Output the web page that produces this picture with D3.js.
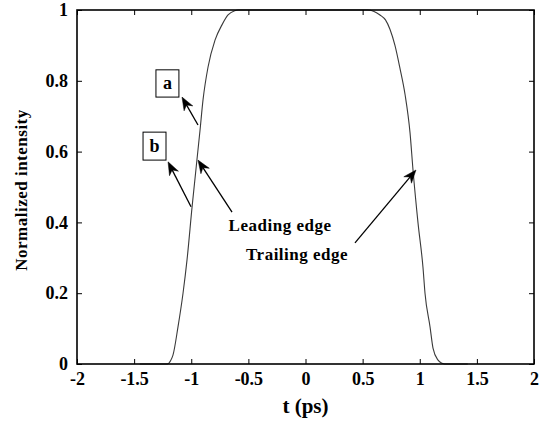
<!DOCTYPE html>
<html>
<head>
<meta charset="utf-8">
<script src="https://cdn.jsdelivr.net/npm/d3@7"></script>
<style>
  html, body { margin: 0; padding: 0; background: #fff; }
  svg { display: block; }
  text { font-family: "Liberation Serif", "Times New Roman", serif; font-weight: bold; fill: #000; }
</style>
</head>
<body>
<svg id="chart" width="541" height="422"></svg>
<script>
// Pulse profile: time (ps) and normalized intensity
const timePs = [-1.45, -1.21, -1.18, -1.16, -1.116, -1.072, -1.037, -0.993, -0.923, -0.897,
                -0.853, -0.792, -0.731, -0.678, -0.62, -0.59, 0.54, 0.60, 0.652, 0.70,
                0.74, 0.783, 0.827, 0.871, 0.915, 0.941, 0.985, 1.028, 1.046, 1.090,
                1.116, 1.160, 1.195, 1.22, 1.42];
const intensity = [0, 0, 0.01, 0.025, 0.105, 0.20, 0.294, 0.443, 0.661, 0.746,
                   0.839, 0.915, 0.958, 0.986, 0.998, 1.0, 1.0, 0.996, 0.986, 0.972,
                   0.945, 0.90, 0.835, 0.762, 0.653, 0.548, 0.398, 0.274, 0.20, 0.105,
                   0.045, 0.011, 0.002, 0, 0];

// Axis ticks
const xTicks = [-2, -1.5, -1, -0.5, 0, 0.5, 1, 1.5, 2];
const xTickLabels = ["-2", "-1.5", "-1", "-0.5", "0", "0.5", "1", "1.5", "2"];
const yTicks = [0, 0.2, 0.4, 0.6, 0.8, 1];
const yTickLabels = ["0", "0.2", "0.4", "0.6", "0.8", "1"];

// Annotation arrows (data coordinates: tail -> tip)
const arrowFrom = [[-0.941, 0.675], [-1.002, 0.444], [-0.643, 0.429], [0.433, 0.342]];
const arrowTo   = [[-1.081, 0.754], [-1.203, 0.571], [-0.941, 0.576], [0.967, 0.548]];

// Boxed labels: text and box extent [x0, x1, yTop, yBottom]
const boxLabels = ["a", "b"];
const boxExtents = [[-1.309, -1.108, 0.831, 0.754], [-1.422, -1.221, 0.655, 0.576]];

// Free text labels: text and centre/baseline position
const noteTexts = ["Leading edge", "Trailing edge"];
const notePos = [[-0.223, 0.376], [-0.074, 0.294]];

const margin = { top: 10, right: 7, bottom: 58, left: 77 };
const width = 541 - margin.left - margin.right;
const height = 422 - margin.top - margin.bottom;

const svg = d3.select("#chart");
const g = svg.append("g").attr("transform", `translate(${margin.left},${margin.top})`);

const x = d3.scaleLinear().domain([-2, 2]).range([0, width]);
const y = d3.scaleLinear().domain([0, 1]).range([height, 0]);

// Curve
const pts = timePs.map((t, i) => [t, intensity[i]]);
g.append("path")
  .datum(pts)
  .attr("fill", "none")
  .attr("stroke", "#3a3a3a")
  .attr("stroke-width", 1.1)
  .attr("d", d3.line().x(d => x(d[0])).y(d => y(d[1])).curve(d3.curveMonotoneX));

// Axes with inward ticks on all four sides
const tickLen = 5;
const fmtX = d => xTickLabels[xTicks.indexOf(d)];
const fmtY = d => yTickLabels[yTicks.indexOf(d)];

const xAxis = g.append("g").attr("transform", `translate(0,${height})`)
  .call(d3.axisBottom(x).tickValues(xTicks).tickFormat(fmtX).tickSizeInner(-tickLen).tickSizeOuter(0).tickPadding(8));
const xTop = g.append("g")
  .call(d3.axisTop(x).tickValues(xTicks).tickFormat("").tickSizeInner(-tickLen).tickSizeOuter(0));
const yAxis = g.append("g")
  .call(d3.axisLeft(y).tickValues(yTicks).tickFormat(fmtY).tickSizeInner(-tickLen).tickSizeOuter(0).tickPadding(9));
const yRight = g.append("g").attr("transform", `translate(${width},0)`)
  .call(d3.axisRight(y).tickValues(yTicks).tickFormat("").tickSizeInner(-tickLen).tickSizeOuter(0));

[xAxis, xTop, yAxis, yRight].forEach(a => {
  a.select(".domain").remove();
  a.selectAll(".tick line").attr("stroke", "#000").attr("stroke-width", 1);
  a.selectAll("text").attr("font-size", 18).attr("font-family", "Liberation Serif").attr("font-weight", "bold").attr("fill", "#000");
});

// Plot box
g.append("rect")
  .attr("x", 0).attr("y", 0).attr("width", width).attr("height", height)
  .attr("fill", "none").attr("stroke", "#000").attr("stroke-width", 1.6);

// Axis titles
svg.append("text")
  .attr("x", margin.left + x(0)).attr("y", 413)
  .attr("text-anchor", "middle").attr("font-size", 21)
  .text("t (ps)");
svg.append("text")
  .attr("transform", `translate(27,${190}) rotate(-90)`)
  .attr("text-anchor", "middle").attr("font-size", 17).attr("letter-spacing", 0.5)
  .text("Normalized intensity");

// Arrows with notched heads
const headLen = 13, headHalf = 5, notch = 4;
arrowFrom.forEach((p, i) => {
  const x1 = x(p[0]), y1 = y(p[1]);
  const x2 = x(arrowTo[i][0]), y2 = y(arrowTo[i][1]);
  const ang = Math.atan2(y2 - y1, x2 - x1);
  const ca = Math.cos(ang), sa = Math.sin(ang);
  const pt = (a, b) => [x2 + a * ca - b * sa, y2 + a * sa + b * ca];
  const back = pt(-headLen + notch, 0);
  g.append("line")
    .attr("x1", x1).attr("y1", y1).attr("x2", back[0]).attr("y2", back[1])
    .attr("stroke", "#000").attr("stroke-width", 1.3);
  const poly = [pt(0, 0), pt(-headLen, headHalf), back, pt(-headLen, -headHalf)];
  g.append("path")
    .attr("d", "M" + poly.map(q => q.join(",")).join("L") + "Z")
    .attr("fill", "#000").attr("stroke", "#000").attr("stroke-width", 0.5);
});

// Boxed labels
boxLabels.forEach((t, i) => {
  const [bx0, bx1, byT, byB] = boxExtents[i];
  g.append("rect")
    .attr("x", x(bx0)).attr("y", y(byT))
    .attr("width", x(bx1) - x(bx0)).attr("height", y(byB) - y(byT))
    .attr("fill", "#fff").attr("stroke", "#000").attr("stroke-width", 1);
  g.append("text")
    .attr("x", (x(bx0) + x(bx1)) / 2).attr("y", (y(byT) + y(byB)) / 2 + 6)
    .attr("text-anchor", "middle").attr("font-size", 18)
    .text(t);
});

// Free text notes
noteTexts.forEach((t, i) => {
  g.append("text")
    .attr("x", x(notePos[i][0])).attr("y", y(notePos[i][1]))
    .attr("text-anchor", "middle").attr("font-size", 17).attr("letter-spacing", 0.5)
    .text(t);
});
</script>
</body>
</html>
